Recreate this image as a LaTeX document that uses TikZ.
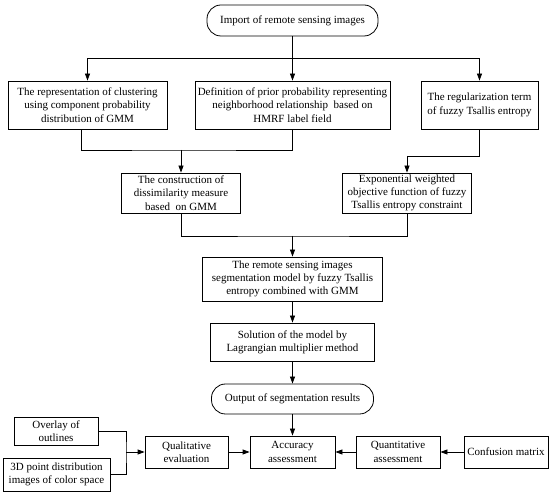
\documentclass[tikz,border=0pt]{standalone}
\usepackage{fontspec}
\setmainfont{Liberation Serif}
\usetikzlibrary{arrows.meta}
\begin{document}
\begin{tikzpicture}[x=1pt,y=-1pt,
  every node/.style={font=\fontsize{11}{13.3}\selectfont, inner sep=1pt, align=center},
  box/.style={draw, rectangle, line width=0.8pt},
  pill/.style={draw, rectangle, rounded corners=14pt, line width=0.8pt},
  line/.style={line width=0.8pt},
  arr/.style={line width=0.8pt, -{Triangle[length=7pt,width=5pt]}}]
\useasboundingbox (0,0) rectangle (550,494);
\fill[white] (0,0) rectangle (550,494);

\node[pill, minimum width=171pt, minimum height=31pt] (top) at (292.5,20.5) {Import of remote sensing images};

\node[box, minimum width=159pt, minimum height=48pt] (b1) at (87.5,105) {The representation of clustering\\using component probability\\distribution of GMM};
\node[box, minimum width=195pt, minimum height=48pt] (b2) at (292.5,105) {Definition of prior probability representing\\neighborhood relationship \ based on\\HMRF label field};
\node[box, minimum width=117pt, minimum height=48pt] (b3) at (479.5,105) {The regularization term\\of fuzzy Tsallis entropy};

\node[box, minimum width=119pt, minimum height=40pt] (b4) at (181,193) {The construction of\\dissimilarity measure\\based \ on GMM};
\node[box, minimum width=129pt, minimum height=40pt] (b5) at (407,193) {Exponential weighted\\objective function of fuzzy\\Tsallis entropy constraint};

\node[box, minimum width=180pt, minimum height=44pt] (b6) at (292.5,279) {The remote sensing images\\segmentation model by fuzzy Tsallis\\entropy combined with GMM};
\node[box, minimum width=164pt, minimum height=38pt] (b7) at (292.5,342) {Solution of the model by\\Lagrangian multiplier method};

\node[pill, minimum width=162pt, minimum height=30pt] (out) at (292.5,399) {Output of segmentation results};

\node[box, minimum width=85pt, minimum height=32pt] (acc) at (292.5,452) {Accuracy\\assessment};
\node[box, minimum width=83pt, minimum height=32pt] (qual) at (186.5,452) {Qualitative\\evaluation};
\node[box, minimum width=84pt, minimum height=32pt] (quant) at (398,452) {Quantitative\\assessment};
\node[box, minimum width=84pt, minimum height=32pt] (conf) at (506,452) {Confusion matrix};
\node[box, minimum width=84pt, minimum height=28pt] (ov) at (56,431) {Overlay of\\outlines};
\node[box, minimum width=107pt, minimum height=33pt] (d3) at (56.5,474.5) {3D point distribution\\images of color space};

\coordinate (j1) at (292.5,58);
\coordinate (j2) at (181,150);
\coordinate (j3) at (407,156);
\coordinate (j4) at (292.5,236);
\coordinate (j5) at (126,452);

\draw[line] (top.south) -- (j1);
\draw[arr] (j1) -| (b1.north);
\draw[arr] (j1) -| (b3.north);
\draw[arr] (j1) -- (b2.north);

\draw[line] ([xshift=-6.5pt]b1.south) |- (j2) -| (b2.south);
\draw[arr] (j2) -- (b4.north);
\draw[line] (b3.south) |- (j3);
\draw[arr] (j3) -- (b5.north);

\draw[line] (b4.south) |- (j4) -| (b5.south);
\draw[arr] (j4) -- (b6.north);

\draw[arr] (b6) -- (b7);
\draw[arr] (b7) -- (out);
\draw[arr] (out) -- (acc);

\draw[arr] (qual) -- (acc);
\draw[arr] (quant) -- (acc);
\draw[arr] (conf) -- (quant);

\draw[line] (ov.east) -| (j5) |- (d3.east);
\draw[arr] (j5) -- (qual.west);
\end{tikzpicture}
\end{document}
